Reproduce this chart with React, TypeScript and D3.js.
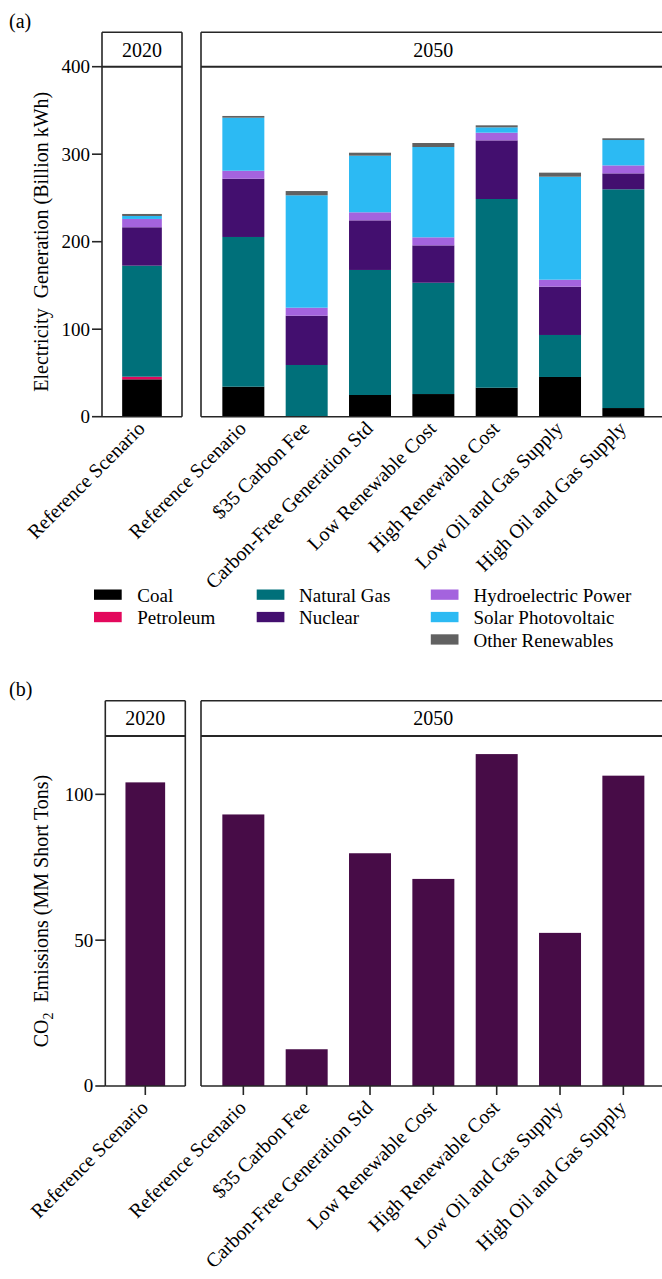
import React from "react";
import * as d3 from "d3";

// ---------- data ----------
const years = ["2020", "2050"];
const scenarios2020 = ["Reference Scenario"];
const scenarios2050 = [
  "Reference Scenario",
  "$35 Carbon Fee",
  "Carbon-Free Generation Std",
  "Low Renewable Cost",
  "High Renewable Cost",
  "Low Oil and Gas Supply",
  "High Oil and Gas Supply",
];
const sources = [
  "Coal",
  "Petroleum",
  "Natural Gas",
  "Nuclear",
  "Hydroelectric Power",
  "Solar Photovoltaic",
  "Other Renewables",
];
const sourceColors = ["#000000", "#e3085c", "#00707a", "#430f6f", "#a463de", "#2cbaf3", "#616161"];

// index 0 = 2020 Reference Scenario, 1..7 = 2050 scenarios
const coal = [42.7, 34.3, 0, 24.8, 25.9, 33.1, 45.4, 9.9];
const petroleum = [3.0, 0, 0, 0, 0, 0, 0, 0];
const naturalGas = [126.9, 171.1, 59.1, 142.9, 127.2, 215.7, 48.0, 250.0];
const nuclear = [43.9, 66.6, 56.3, 56.7, 42.7, 67.0, 55.2, 18.2];
const hydro = [9.5, 9.1, 9.2, 9.2, 9.2, 8.8, 8.0, 9.1];
const solar = [3.4, 60.6, 128.4, 64.7, 103.2, 6.1, 117.7, 29.0];
const otherRenew = [2.3, 2.0, 4.9, 3.4, 4.6, 2.3, 4.6, 2.0];
const co2 = [104.1, 93.1, 12.6, 79.8, 71.0, 113.8, 52.5, 106.4];

const genTicks = [0, 100, 200, 300, 400];
const co2Ticks = [0, 50, 100];
const legendColumns = [[0, 1], [2, 3], [4, 5, 6]];

// ---------- helpers ----------
const FONT = '"Liberation Serif", "Times New Roman", serif';
const LINE = "#262626";
const LW = 1.6;

const seriesBySource = [coal, petroleum, naturalGas, nuclear, hydro, solar, otherRenew];
const rows = [...scenarios2020, ...scenarios2050].map((name, i) => {
  const r: any = { idx: i, name };
  sources.forEach((s, k) => (r[s] = seriesBySource[k][i]));
  return r;
});
const stacked = d3.stack().keys(sources)(rows as any);

type Panel = { x0: number; x1: number; names: string[]; offset: number };

function Facets({
  top, headTop, bottom, yMax, ticks, leftPanel, rightPanel, xTicks, labelDy,
  children,
}: any) {
  const y = d3.scaleLinear().domain([0, yMax]).range([bottom, top]);
  const panels: Panel[] = [leftPanel, rightPanel];
  return (
    <g>
      {/* y axis ticks */}
      {ticks.map((t: number) => (
        <g key={t}>
          <line x1={leftPanel.x0 - 10} x2={leftPanel.x0} y1={y(t)} y2={y(t)} stroke={LINE} strokeWidth={LW} />
          <text x={leftPanel.x0 - 12} y={y(t)} dy="0.34em" textAnchor="end" fontSize={19}>
            {t}
          </text>
        </g>
      ))}
      {panels.map((p, pi) => {
        const xs = d3.scaleBand().domain(p.names).range([p.x0, p.x1]).padding(0.337);
        return (
          <g key={pi}>
            {children(xs, y, p)}
            {/* box */}
            <line x1={p.x0} x2={p.x0} y1={headTop} y2={bottom} stroke={LINE} strokeWidth={LW} />
            <line x1={p.x1} x2={p.x1} y1={headTop} y2={bottom} stroke={LINE} strokeWidth={LW} />
            <line x1={p.x0} x2={p.x1} y1={headTop} y2={headTop} stroke={LINE} strokeWidth={LW} />
            <line x1={p.x0} x2={p.x1} y1={top} y2={top} stroke={LINE} strokeWidth={LW + 0.4} />
            <line x1={p.x0} x2={p.x1} y1={bottom} y2={bottom} stroke={LINE} strokeWidth={LW} />
            <text x={(p.x0 + p.x1) / 2} y={(headTop + top) / 2} dy="0.35em" textAnchor="middle" fontSize={20}>
              {years[pi]}
            </text>
            {p.names.map((n) => {
              const cx = (xs(n) as number) + xs.bandwidth() / 2;
              return (
                <g key={n}>
                  {xTicks && (
                    <line x1={cx} x2={cx} y1={bottom} y2={bottom + 9} stroke={LINE} strokeWidth={LW} />
                  )}
                  <text
                    transform={`translate(${cx + 4},${bottom + labelDy}) rotate(-45)`}
                    textAnchor="end"
                    fontSize={20}
                  >
                    {n}
                  </text>
                </g>
              );
            })}
          </g>
        );
      })}
    </g>
  );
}

export default function App() {
  return (
    <svg
      width={662}
      height={1279}
      style={{ position: "absolute", left: 0, top: 0, fontFamily: FONT }}
    >
      <rect width={662} height={1279} fill="#fff" />

      {/* ---------- panel (a) ---------- */}
      <text x={9} y={28} fontSize={20}>(a)</text>
      <text transform="translate(48,241.7) rotate(-90)" textAnchor="middle" fontSize={20} style={{ whiteSpace: "pre" }}>
        {"Electricity  Generation (Billion kWh)"}
      </text>
      <Facets
        top={66.7}
        headTop={32.3}
        bottom={416.7}
        yMax={400}
        ticks={genTicks}
        leftPanel={{ x0: 102, x1: 182, names: scenarios2020, offset: 0 }}
        rightPanel={{ x0: 201, x1: 665.7, names: scenarios2050, offset: 1 }}
        xTicks={false}
        labelDy={13}
      >
        {(xs: any, y: any, p: Panel) =>
          stacked.map((layer: any, k: number) => (
            <g key={k} fill={sourceColors[k]}>
              {p.names.map((n, j) => {
                const d = layer[j + p.offset];
                const h = y(d[0]) - y(d[1]);
                if (h <= 0) return null;
                return <rect key={n} x={xs(n)} width={xs.bandwidth()} y={y(d[1])} height={h} />;
              })}
            </g>
          ))
        }
      </Facets>

      {/* legend */}
      {legendColumns.map((col, ci) => {
        const sx = [94, 256.7, 430.8][ci];
        const tx = [137.3, 299, 473.5][ci];
        return col.map((k, ri) => {
          const yTop = 589.5 + ri * 22.4;
          return (
            <g key={k}>
              <rect x={sx} y={yTop} width={27.7} height={10.3} fill={sourceColors[k]} />
              <text x={tx} y={yTop + 12.4} fontSize={19}>{sources[k]}</text>
            </g>
          );
        });
      })}

      {/* ---------- panel (b) ---------- */}
      <text x={9} y={696} fontSize={20}>(b)</text>
      <text transform="translate(48,911) rotate(-90)" textAnchor="middle" fontSize={20} style={{ whiteSpace: "pre" }}>
        CO<tspan dy={5} fontSize={14}>2</tspan><tspan dy={-5}>{"  Emissions (MM Short Tons)"}</tspan>
      </text>
      <Facets
        top={736}
        headTop={700.7}
        bottom={1086}
        yMax={120}
        ticks={co2Ticks}
        leftPanel={{ x0: 105.3, x1: 185.3, names: scenarios2020, offset: 0 }}
        rightPanel={{ x0: 201, x1: 665.7, names: scenarios2050, offset: 1 }}
        xTicks={true}
        labelDy={23}
      >
        {(xs: any, y: any, p: Panel) => (
          <g fill="#470c47">
            {p.names.map((n, j) => (
              <rect key={n} x={xs(n)} width={xs.bandwidth()} y={y(co2[j + p.offset])} height={y(0) - y(co2[j + p.offset])} />
            ))}
          </g>
        )}
      </Facets>
    </svg>
  );
}
